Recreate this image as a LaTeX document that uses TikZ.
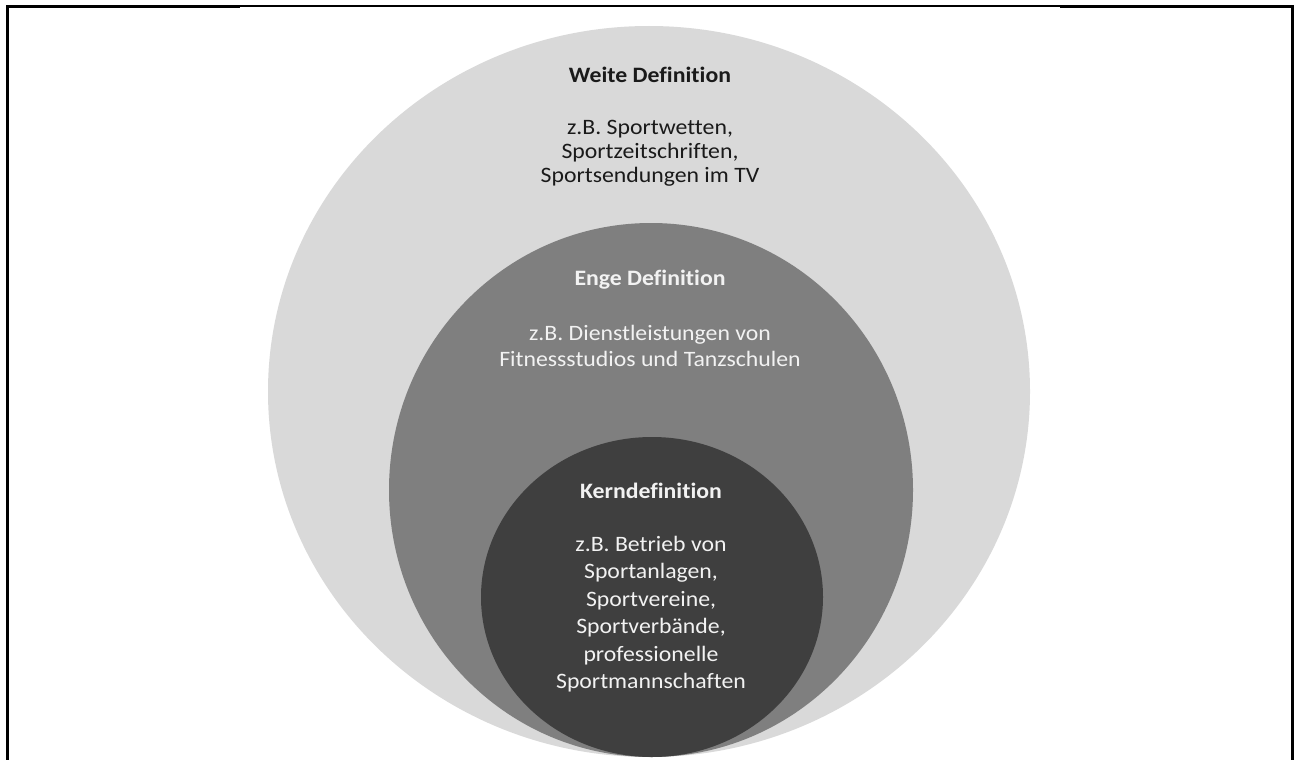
\documentclass[tikz,border=0pt]{standalone}
\usepackage{fontspec}
\setmainfont{Carlito}[FakeStretch=1.08,Ligatures={NoCommon},RawFeature={-liga}]
\definecolor{outerc}{HTML}{D9D9D9}
\definecolor{midc}{HTML}{7F7F7F}
\definecolor{innerc}{HTML}{3F3F3F}
\definecolor{lighttext}{HTML}{F2F2F2}
\definecolor{darktext}{HTML}{1A1A1A}
\begin{document}
\begin{tikzpicture}[x=1pt,y=-1pt,
  thickline/.style={line width=2.8pt,black},
  thinline/.style={line width=1.2pt,black},
  lbl/.style={align=center,inner sep=0pt,font=\fontsize{22}{24}\selectfont},
  hdr/.style={inner sep=0pt,font=\fontsize{22}{24}\selectfont\bfseries}]
\useasboundingbox (0,0) rectangle (1298,760);
\fill[white] (0,0) rectangle (1298,760);
% circles
\fill[outerc] (649,391.5) ellipse [x radius=381, y radius=365.5];
\fill[midc] (651,490) ellipse [x radius=262, y radius=267];
\fill[innerc] (652,597) ellipse [x radius=171, y radius=160];
% frame
\draw[thickline] (7.5,6.5) -- (240,6.5);
\draw[thinline] (240,6) -- (1060,6);
\draw[thickline] (1060,6.5) -- (1292.5,6.5);
\draw[thickline] (7.5,5.1) -- (7.5,760);
\draw[thickline] (1292.5,5.1) -- (1292.5,760);
% texts
\node[hdr,text=darktext] (weiteH) at (650,75) {Weite Definition};
\node[lbl,text=darktext,anchor=north] (weiteT) at (650,120) {z.B. Sportwetten,\\Sportzeitschriften,\\Sportsendungen im TV};
\node[hdr,text=lighttext] (engeH) at (650,280) {Enge Definition};
\node[lbl,text=lighttext,anchor=north,font=\fontsize{22}{26}\selectfont] (engeT) at (650,325) {z.B. Dienstleistungen von\\Fitnessstudios und Tanzschulen};
\node[hdr,text=lighttext] (kernH) at (651,491) {Kerndefinition};
\node[lbl,text=lighttext,anchor=north,font=\fontsize{22}{27.4}\selectfont] (kernT) at (651,536) {z.B. Betrieb von\\Sportanlagen,\\Sportvereine,\\Sportverbände,\\professionelle\\Sportmannschaften};
\end{tikzpicture}
\end{document}
